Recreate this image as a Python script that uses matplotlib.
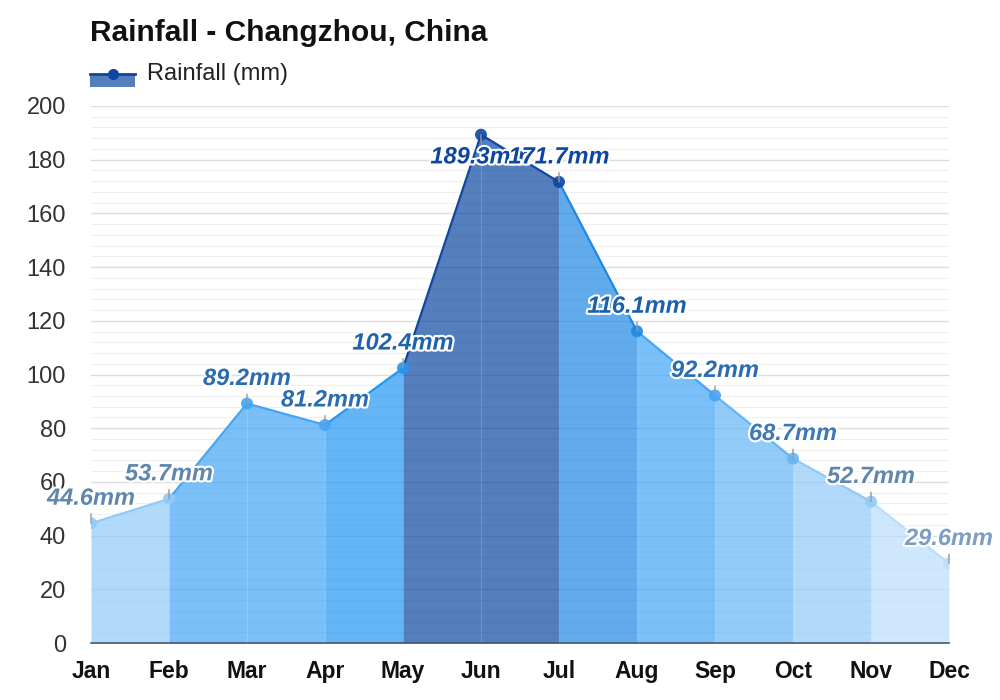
import numpy as np
import matplotlib
matplotlib.use("Agg")
import matplotlib.pyplot as plt
import matplotlib.patheffects as pe
from matplotlib.patches import Rectangle
from matplotlib.lines import Line2D

months = ['Jan', 'Feb', 'Mar', 'Apr', 'May', 'Jun', 'Jul', 'Aug', 'Sep', 'Oct', 'Nov', 'Dec']
rain = [44.6, 53.7, 89.2, 81.2, 102.4, 189.3, 171.7, 116.1, 92.2, 68.7, 52.7, 29.6]

# colour per month (point, and fill of the segment ending at that month)
pt_col = ['#90caf9', '#90caf9', '#42a5f5', '#42a5f5', '#2196f3', '#0d47a1',
          '#0d47a1', '#1e88e5', '#42a5f5', '#64b5f6', '#90caf9', '#bbdefb']
lab_col = ['#5f86ae', '#5f86ae', '#2b6cb0', '#2b6cb0', '#1f62b0', '#0d47a1',
           '#0d47a1', '#1d5fab', '#2b6cb0', '#3f78b4', '#5f86ae', '#7e9dc2']

plt.rcParams['font.family'] = ['Liberation Sans', 'DejaVu Sans']

fig = plt.figure(figsize=(10, 7), dpi=100)
ax = fig.add_axes([0.091, 0.0814, 0.858, 0.7672])

x = np.arange(len(months))
y = np.array(rain)

for i in range(len(x) - 1):
    c = pt_col[i + 1]
    ax.fill_between(x[i:i + 2], 0, y[i:i + 2], color=c, alpha=0.7, lw=0, zorder=2)
    ax.plot(x[i:i + 2], y[i:i + 2], color=c, lw=1.6, zorder=3, solid_capstyle='round')

ax.scatter(x, y, s=75, c=pt_col, zorder=4, edgecolors='none', alpha=0.9)

for i in range(len(x)):
    off = -16 if y[i] > 185 else 18
    ax.annotate(f'{rain[i]}mm', xy=(x[i], y[i]), xytext=(0, off),
                textcoords='offset points', ha='center', va='center',
                fontsize=17, fontweight='bold', fontstyle='italic',
                color=lab_col[i], zorder=6, annotation_clip=False,
                arrowprops=dict(arrowstyle='-', color='#999999', lw=1,
                                shrinkA=1, shrinkB=0),
                path_effects=[pe.withStroke(linewidth=3, foreground='white')])

ax.set_xlim(0, 11)
ax.set_ylim(0, 200)
ax.set_xticks(x)
ax.set_xticklabels(months, fontsize=16.5, fontweight='bold', color='#111111')
ax.set_yticks(np.arange(0, 201, 20))
ax.set_yticks(np.arange(0, 201, 4), minor=True)
ax.tick_params(axis='y', which='both', length=0, labelsize=17, labelcolor='#333333', pad=18)
ax.tick_params(axis='x', length=0, pad=12)
ax.grid(axis='y', which='major', color='#dddddd', lw=1, zorder=0)
ax.grid(axis='y', which='minor', color='#efefef', lw=0.8, zorder=0)
for s in ['top', 'right', 'left']:
    ax.spines[s].set_visible(False)
ax.spines['bottom'].set_color('#4a5a6a')
ax.spines['bottom'].set_linewidth(1.2)
ax.spines['bottom'].set_zorder(5)

fig.text(0.09, 0.953, 'Rainfall - Changzhou, China', fontsize=21.5, fontweight='bold',
         color='#111111', va='center', ha='left')

# legend
fig.add_artist(Rectangle((0.09, 1 - 87 / 700), 0.045, 13 / 700, color='#0d47a1', alpha=0.7, lw=0))
fig.add_artist(Line2D([0.09, 0.135], [1 - 74 / 700] * 2, color='#0d47a1', lw=2))
fig.add_artist(Line2D([0.1125], [1 - 74 / 700], marker='o', color='#0d47a1', ms=7))
fig.text(0.147, 1 - 74 / 700, 'Rainfall (mm)', fontsize=17, color='#222222', va='center', ha='left')

fig.savefig('out.png', dpi=100, facecolor='white')
